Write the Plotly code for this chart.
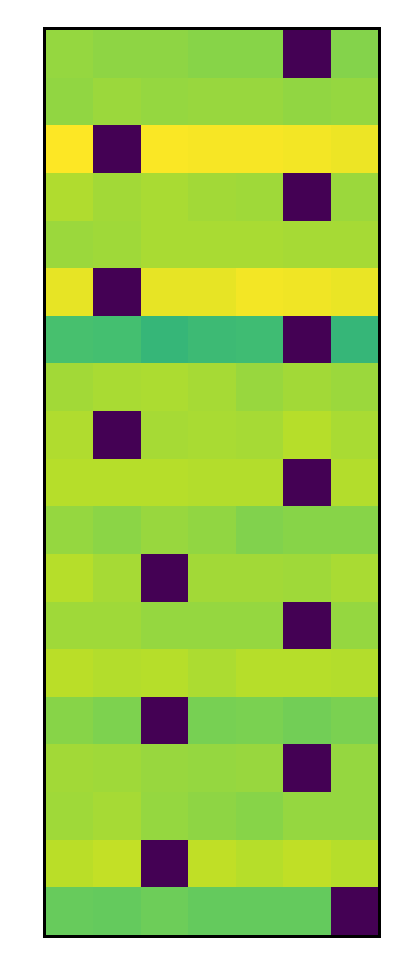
import plotly.graph_objects as go

rows = list(range(19))
cols = list(range(7))
values = [
    [0.84, 0.83, 0.83, 0.82, 0.82, 0.0, 0.815],
    [0.835, 0.85, 0.84, 0.845, 0.845, 0.835, 0.84],
    [1.0, 0.0, 0.995, 0.99, 0.99, 0.985, 0.975],
    [0.88, 0.86, 0.87, 0.86, 0.855, 0.0, 0.85],
    [0.85, 0.855, 0.87, 0.87, 0.87, 0.865, 0.865],
    [0.965, 0.0, 0.965, 0.965, 0.985, 0.98, 0.97],
    [0.705, 0.70, 0.66, 0.68, 0.685, 0.0, 0.66],
    [0.86, 0.87, 0.875, 0.865, 0.845, 0.86, 0.85],
    [0.88, 0.0, 0.865, 0.87, 0.865, 0.89, 0.87],
    [0.89, 0.89, 0.89, 0.885, 0.885, 0.0, 0.885],
    [0.84, 0.825, 0.845, 0.835, 0.81, 0.82, 0.82],
    [0.89, 0.865, 0.0, 0.86, 0.86, 0.855, 0.87],
    [0.855, 0.855, 0.84, 0.84, 0.84, 0.0, 0.84],
    [0.895, 0.885, 0.89, 0.875, 0.89, 0.89, 0.885],
    [0.82, 0.805, 0.0, 0.795, 0.80, 0.785, 0.80],
    [0.86, 0.855, 0.845, 0.84, 0.845, 0.0, 0.84],
    [0.855, 0.865, 0.84, 0.83, 0.82, 0.84, 0.84],
    [0.895, 0.91, 0.0, 0.905, 0.89, 0.905, 0.89],
    [0.765, 0.76, 0.775, 0.76, 0.76, 0.76, 0.0],
]

viridis = [
    [0.0, "#440154"], [0.1, "#482475"], [0.2, "#414487"], [0.3, "#355f8d"],
    [0.4, "#2a788e"], [0.5, "#21918c"], [0.6, "#22a884"], [0.7, "#44bf70"],
    [0.8, "#7ad151"], [0.9, "#bddf26"], [1.0, "#fde725"],
]

fig = go.Figure(go.Heatmap(
    z=values, x=cols, y=rows, colorscale=viridis, zmin=0, zmax=1,
    showscale=False, xgap=0, ygap=0,
))
fig.update_layout(
    width=408, height=980,
    margin=dict(l=38, r=38, t=22, b=53),
    paper_bgcolor="white", plot_bgcolor="white",
)
fig.update_xaxes(showticklabels=False, ticks="", showgrid=False, zeroline=False,
                 showline=True, linecolor="black", linewidth=2.5, mirror=True,
                 range=[-0.5, 6.5])
fig.update_yaxes(showticklabels=False, ticks="", showgrid=False, zeroline=False,
                 showline=True, linecolor="black", linewidth=2.5, mirror=True,
                 range=[18.5, -0.5])
fig.write_html("out.html")
